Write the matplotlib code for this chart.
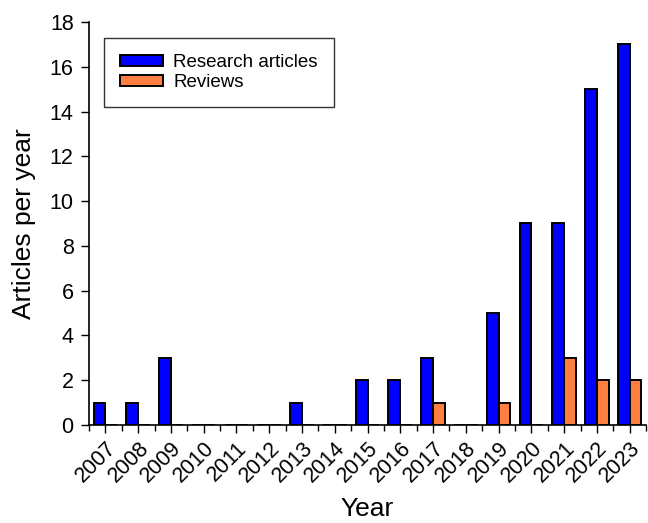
import numpy as np
import matplotlib as mpl
import matplotlib.pyplot as plt
from matplotlib.ticker import FixedLocator

years = ["2007", "2008", "2009", "2010", "2011", "2012", "2013", "2014", "2015",
         "2016", "2017", "2018", "2019", "2020", "2021", "2022", "2023"]
research = [1, 1, 3, 0, 0, 0, 1, 0, 2, 2, 3, 0, 5, 9, 9, 15, 17]
reviews = [0, 0, 0, 0, 0, 0, 0, 0, 0, 0, 1, 0, 1, 0, 3, 2, 2]


def main():
    plt.rcParams["font.family"] = ["Liberation Sans", "DejaVu Sans"]
    plt.rcParams["xtick.direction"] = "out"
    plt.rcParams["ytick.direction"] = "out"

    fig = plt.figure(figsize=(6.48, 5.23), dpi=100)
    ax = fig.add_axes([0.1373, 0.1874, 0.8597, 0.7706])

    x = np.arange(len(years))
    w = 0.36
    ax.bar(x - w / 2, research, width=w, color="#0000FF", edgecolor="black",
           linewidth=1.4, label="Research articles", zorder=3)
    ax.bar(x + w / 2, reviews, width=w, color="#FF7F40", edgecolor="black",
           linewidth=1.4, label="Reviews", zorder=3)

    ax.set_xlim(-0.5, len(years) - 0.5)
    ax.set_ylim(0, 18)
    ax.set_yticks(range(0, 19, 2))
    ax.set_xticks(x)
    ax.set_xticklabels(years, rotation=45, ha="right", rotation_mode="anchor",
                       fontsize=15.5)
    ax.xaxis.set_minor_locator(FixedLocator(np.arange(-0.5, len(years), 1.0)))
    ax.tick_params(axis="y", labelsize=15.5, length=6, width=1, pad=5)
    ax.tick_params(axis="x", which="major", length=6, width=1, pad=3)
    ax.tick_params(axis="x", which="minor", length=4, width=1)

    for side in ["top", "right"]:
        ax.spines[side].set_visible(False)
    for side in ["left", "bottom"]:
        ax.spines[side].set_linewidth(1.2)

    ax.set_ylabel("Articles per year", fontsize=19, labelpad=10)
    fig.text(0.567, 0.004, "Year", fontsize=19, ha="center", va="bottom")

    leg = ax.legend(loc="upper left", bbox_to_anchor=(0.027, 0.96),
                    borderaxespad=0, fontsize=13.5, frameon=True, fancybox=False,
                    edgecolor="black", handlelength=2.3, handleheight=0.55,
                    borderpad=0.85, labelspacing=0.15, handletextpad=0.55)
    leg.get_frame().set_linewidth(1.0)

    fig.savefig("out.png", dpi=100)
    plt.close(fig)


if __name__ == "__main__":
    main()
